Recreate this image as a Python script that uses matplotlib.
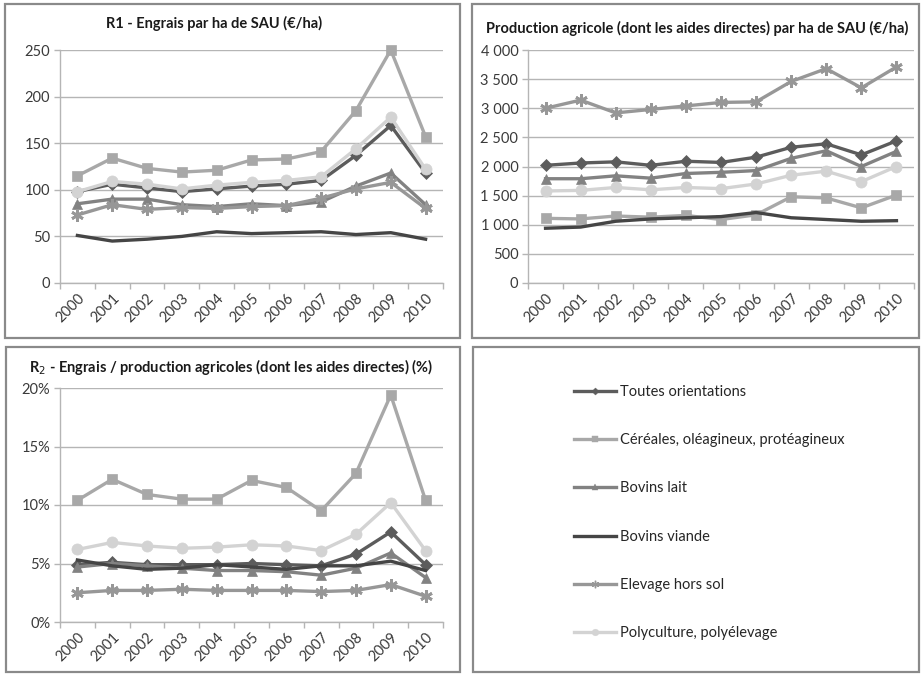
import matplotlib
matplotlib.use("Agg")
import matplotlib.pyplot as plt
from matplotlib.lines import Line2D
from matplotlib.patches import Rectangle
from matplotlib.ticker import FuncFormatter, MultipleLocator, FixedLocator

plt.rcParams['font.family'] = ['Lato', 'DejaVu Sans']

years = ['2000', '2001', '2002', '2003', '2004', '2005', '2006', '2007', '2008', '2009', '2010']
series_names = ['Toutes orientations', 'Céréales, oléagineux, protéagineux', 'Bovins lait',
                'Bovins viande', 'Elevage hors sol', 'Polyculture, polyélevage']

# R1 - engrais par ha de SAU (€/ha)
r1_toutes = [98, 106, 102, 98, 101, 104, 106, 110, 137, 169, 118]
r1_cereales = [115, 134, 123, 119, 121, 132, 133, 141, 185, 250, 157]
r1_lait = [85, 90, 90, 84, 82, 85, 83, 87, 104, 118, 84]
r1_viande = [51, 45, 47, 50, 55, 53, 54, 55, 52, 54, 47]
r1_horssol = [73, 84, 79, 81, 80, 82, 83, 91, 101, 108, 80]
r1_poly = [98, 109, 106, 101, 105, 108, 110, 114, 144, 178, 122]

# production agricole (dont aides directes) par ha de SAU (€/ha)
prod_toutes = [2020, 2060, 2080, 2020, 2090, 2070, 2160, 2330, 2390, 2200, 2440]
prod_cereales = [1110, 1100, 1150, 1130, 1160, 1090, 1170, 1480, 1460, 1290, 1510]
prod_lait = [1790, 1790, 1840, 1800, 1880, 1900, 1930, 2140, 2270, 2000, 2260]
prod_viande = [940, 960, 1060, 1100, 1120, 1140, 1210, 1120, 1090, 1060, 1070]
prod_horssol = [3000, 3140, 2920, 2980, 3040, 3100, 3110, 3460, 3680, 3350, 3710]
prod_poly = [1580, 1590, 1640, 1600, 1640, 1620, 1700, 1850, 1920, 1740, 2000]

# R2 - engrais / production agricole (%)
r2_toutes = [4.9, 5.1, 4.9, 4.9, 4.9, 5.0, 4.9, 4.8, 5.8, 7.7, 4.9]
r2_cereales = [10.4, 12.2, 10.9, 10.5, 10.5, 12.1, 11.5, 9.5, 12.7, 19.4, 10.4]
r2_lait = [4.7, 5.0, 4.8, 4.6, 4.4, 4.4, 4.3, 4.0, 4.6, 5.9, 3.8]
r2_viande = [5.3, 4.8, 4.5, 4.6, 4.9, 4.7, 4.5, 4.8, 4.8, 5.2, 4.4]
r2_horssol = [2.5, 2.7, 2.7, 2.8, 2.7, 2.7, 2.7, 2.6, 2.7, 3.2, 2.2]
r2_poly = [6.2, 6.8, 6.5, 6.3, 6.4, 6.6, 6.5, 6.1, 7.5, 10.2, 6.1]

colors = ['#5c5c5c', '#a8a8a8', '#828282', '#454545', '#979797', '#d3d3d3']
markers = ['D', 's', '^', None, (6, 2, 0), 'o']
msizes = [6, 7.5, 7.5, 0, 9, 8]

TEXT = '#3a3a3a'
GRID = '#b5b5b5'


def style_axes(ax, ymax, step, fmt):
    ax.set_xlim(-0.5, len(years) - 0.5)
    ax.set_ylim(0, ymax)
    ax.yaxis.set_major_locator(MultipleLocator(step))
    ax.yaxis.set_major_formatter(FuncFormatter(fmt))
    ax.set_xticks(range(len(years)))
    ax.set_xticklabels(years, rotation=45, ha='right', va='top', rotation_mode='anchor')
    ax.xaxis.set_minor_locator(FixedLocator([i - 0.5 for i in range(len(years) + 1)]))
    ax.tick_params(axis='x', which='major', length=0, pad=6, labelsize=10.5, labelcolor=TEXT)
    ax.tick_params(axis='x', which='minor', length=4, color=GRID, width=1)
    ax.tick_params(axis='y', length=4, color=GRID, width=1, labelsize=10.5, labelcolor=TEXT, pad=3)
    ax.grid(axis='y', color=GRID, linewidth=1)
    ax.set_axisbelow(True)
    for side in ['top', 'right']:
        ax.spines[side].set_visible(False)
    for side in ['left', 'bottom']:
        ax.spines[side].set_color(GRID)
        ax.spines[side].set_linewidth(1)


def draw_series(ax, data):
    x = range(len(years))
    for vals, name, c, m, ms in zip(data, series_names, colors, markers, msizes):
        ax.plot(x, vals, color=c, linewidth=2.4, marker=m, markersize=ms,
                markeredgewidth=2 if m == (6, 2, 0) else 0.5, markeredgecolor=c,
                markerfacecolor=c, label=name, clip_on=False)


def thousands(v, p):
    return f'{v:,.0f}'.replace(',', ' ')


fig = plt.figure(figsize=(9.23, 6.76), dpi=100)

# panel frames
for (x0, y0, x1, y1) in [(5, 4, 460, 338), (472, 4, 919, 338), (6, 347, 460, 672), (473, 347, 919, 672)]:
    fig.patches.append(Rectangle((x0 / 923, 1 - y1 / 676), (x1 - x0) / 923, (y1 - y0) / 676,
                                 transform=fig.transFigure, fill=False, edgecolor='#8a8a8a',
                                 linewidth=1.6))

ax1 = fig.add_axes([60 / 923, 1 - 283 / 676, 383 / 923, 233 / 676])
draw_series(ax1, [r1_toutes, r1_cereales, r1_lait, r1_viande, r1_horssol, r1_poly])
style_axes(ax1, 250, 50, lambda v, p: f'{v:.0f}')
fig.text(214 / 923, 1 - 23 / 676, 'R1 - Engrais par ha de SAU (€/ha)', ha='center', va='center',
         fontsize=10.5, fontweight='bold', color='#1a1a1a')

ax2 = fig.add_axes([528 / 923, 1 - 283 / 676, 386 / 923, 233 / 676])
draw_series(ax2, [prod_toutes, prod_cereales, prod_lait, prod_viande, prod_horssol, prod_poly])
style_axes(ax2, 4000, 500, thousands)
fig.text(697 / 923, 1 - 28 / 676, 'Production agricole (dont les aides directes) par ha de SAU (€/ha)',
         ha='center', va='center', fontsize=10.5, fontweight='bold', color='#1a1a1a')

ax3 = fig.add_axes([60 / 923, 1 - 622 / 676, 383 / 923, 234 / 676])
draw_series(ax3, [r2_toutes, r2_cereales, r2_lait, r2_viande, r2_horssol, r2_poly])
style_axes(ax3, 20, 5, lambda v, p: f'{v:.0f}%')
fig.text(231 / 923, 1 - 367 / 676, 'R$_2$ - Engrais / production agricoles (dont les aides directes) (%)',
         ha='center', va='center', fontsize=10.5, fontweight='bold', color='#1a1a1a')

# legend handles with smaller markers, as in the series key
handles = [Line2D([], [], color=c, linewidth=2.4, marker=m, markersize=ms * 0.6,
                  markeredgewidth=1 if m == (6, 2, 0) else 0.3, markeredgecolor=c,
                  markerfacecolor=c)
           for c, m, ms in zip(colors, markers, msizes)]
leg = fig.legend(handles=handles, labels=series_names, loc='upper left',
                 bbox_to_anchor=(568 / 923, 1 - 379 / 676),
                 frameon=False, fontsize=10.5, labelspacing=2.35, handlelength=2.9,
                 handletextpad=0.25, borderaxespad=0)
for t in leg.get_texts():
    t.set_color('#262626')

fig.savefig('out.png', dpi=100)
